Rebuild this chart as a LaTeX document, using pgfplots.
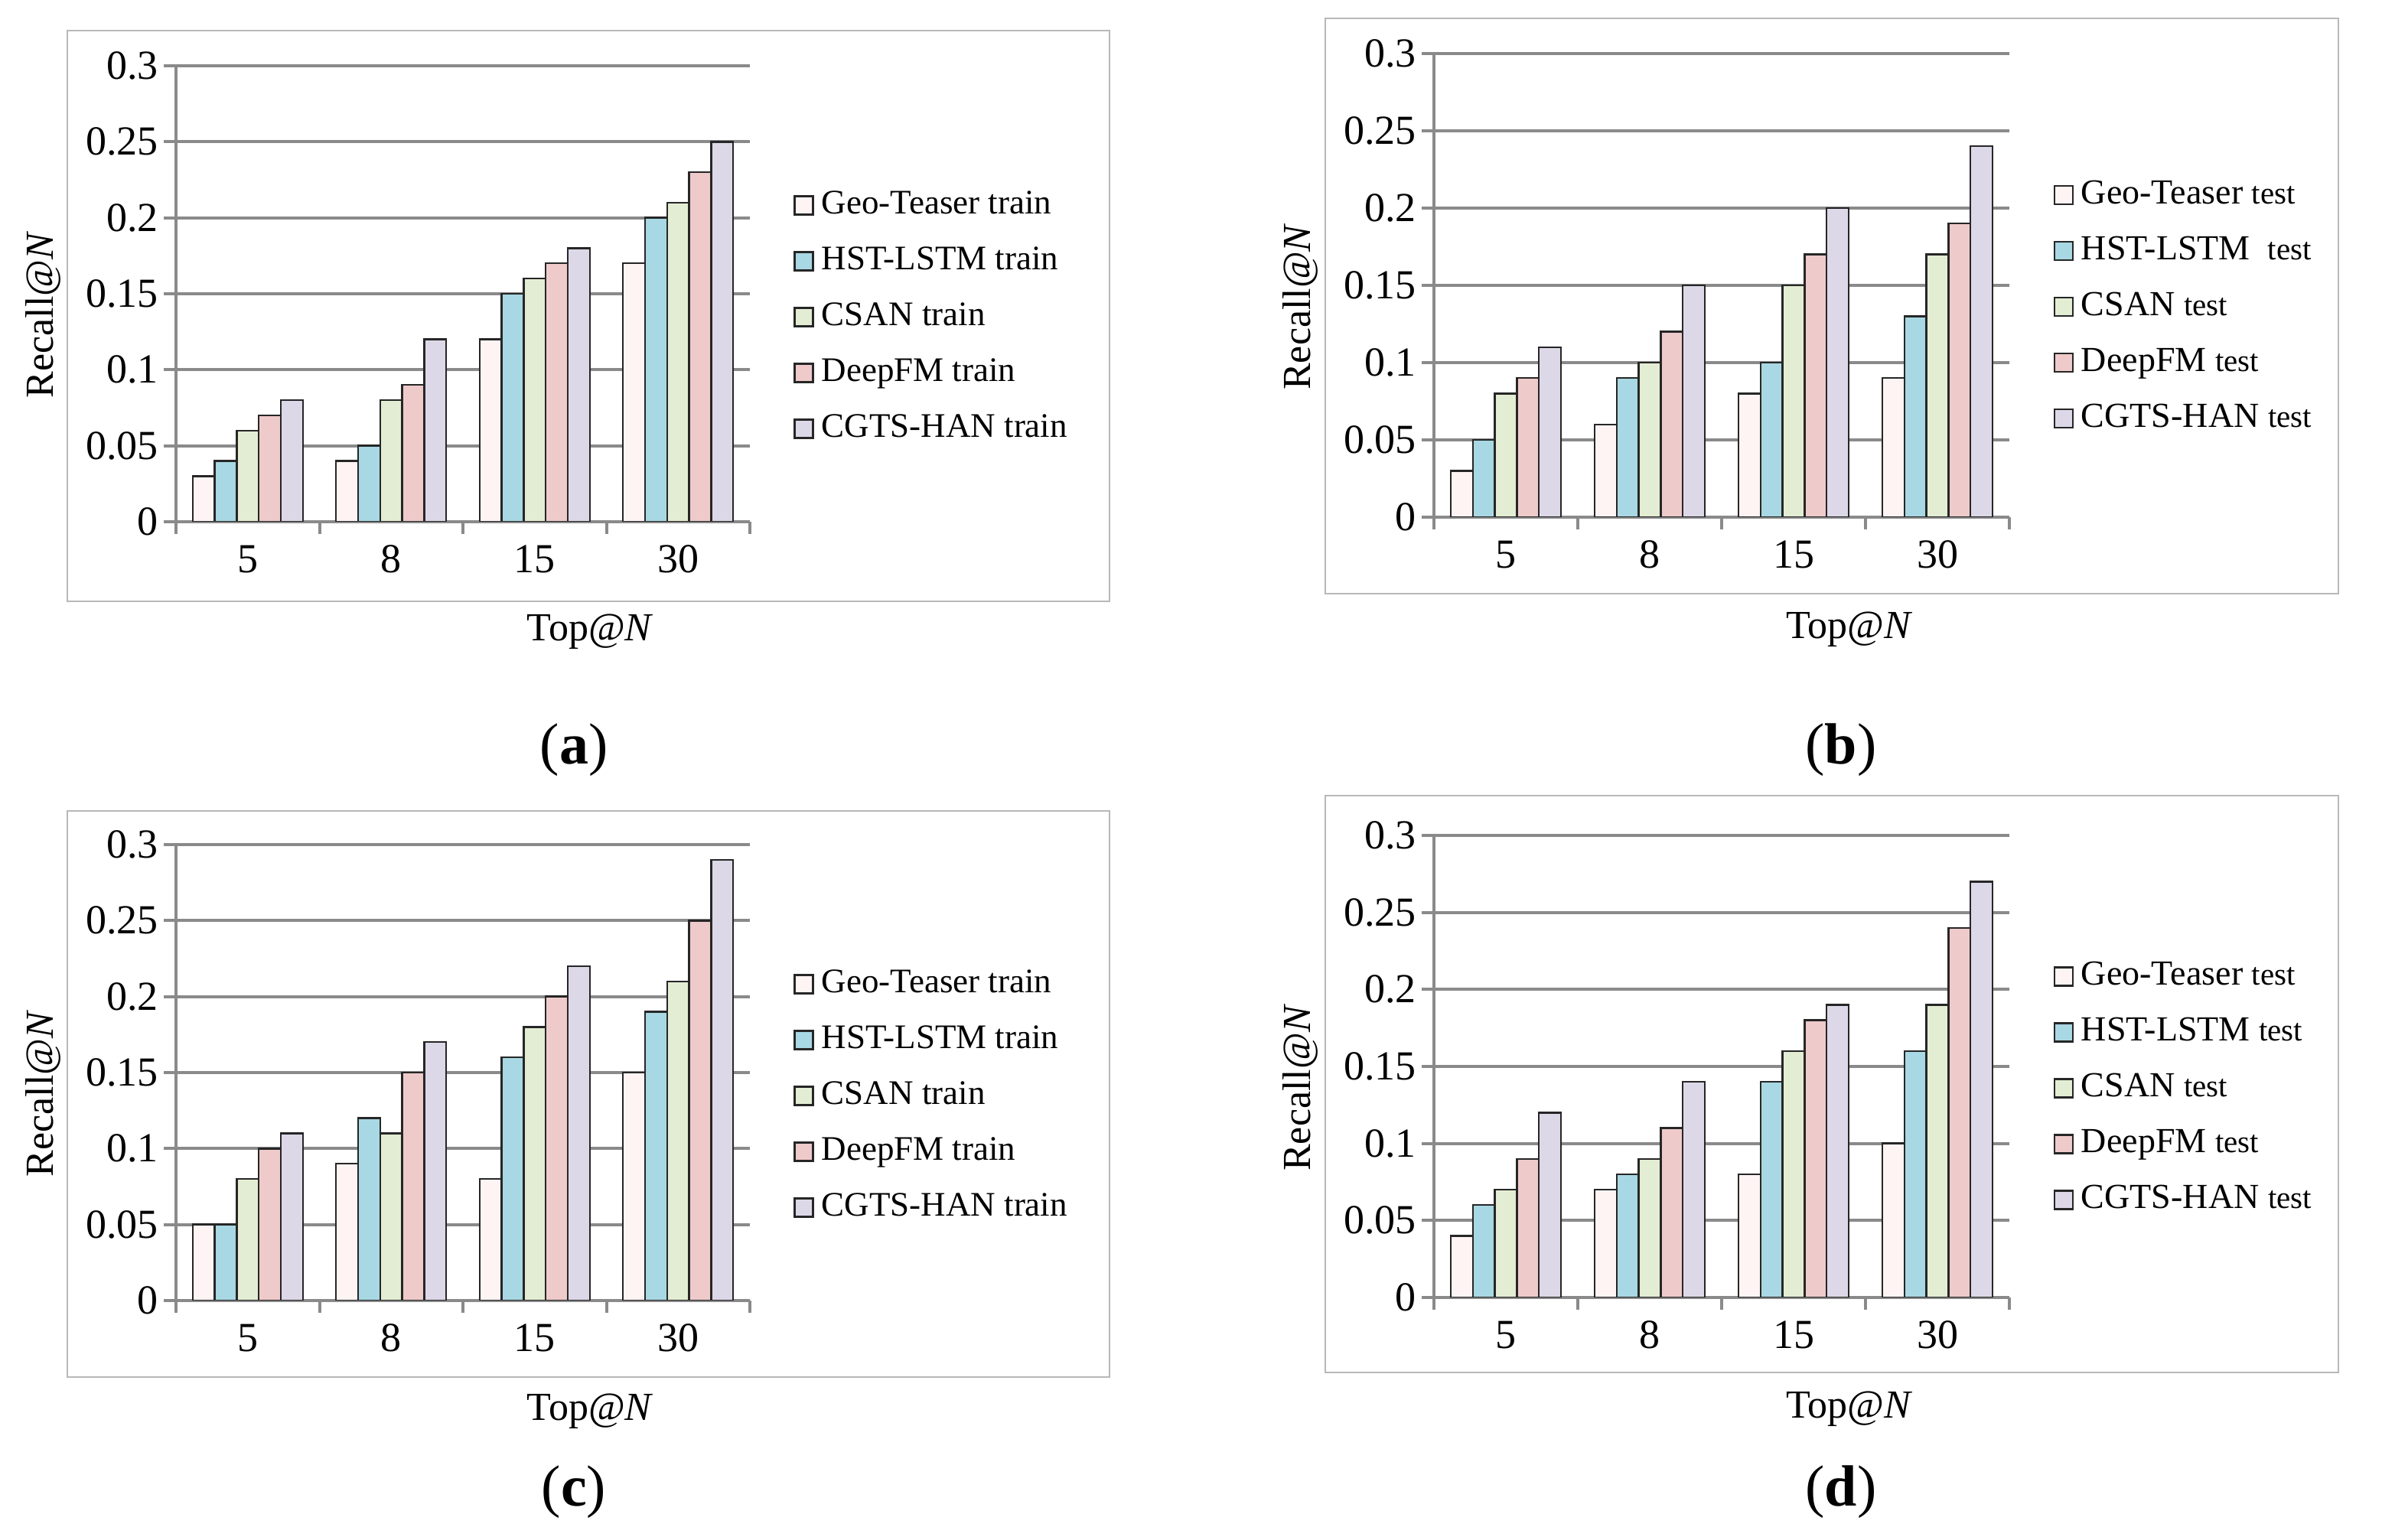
\documentclass[border=0pt]{standalone}
\usepackage{fontspec}
\setmainfont{Liberation Serif}
\usepackage{pgfplots}
\usepackage{pgfplotstable}
\pgfplotsset{compat=1.18}

\definecolor{geo}{HTML}{FFF4F4}
\definecolor{hst}{HTML}{A8D8E3}
\definecolor{csan}{HTML}{E3EDD3}
\definecolor{deep}{HTML}{EFCACA}
\definecolor{cgts}{HTML}{DDD8E8}
\definecolor{axisgray}{HTML}{8A8A8A}
\definecolor{framegray}{HTML}{B8B8B8}
\definecolor{barline}{HTML}{262626}

% recall per top-N (5, 8, 15, 30)
\pgfplotstableread{
x geo  hst  csan deep cgts
1 0.03 0.04 0.06 0.07 0.08
2 0.04 0.05 0.08 0.09 0.12
3 0.12 0.15 0.16 0.17 0.18
4 0.17 0.20 0.21 0.23 0.25
}\dataA
\pgfplotstableread{
x geo  hst  csan deep cgts
1 0.03 0.05 0.08 0.09 0.11
2 0.06 0.09 0.10 0.12 0.15
3 0.08 0.10 0.15 0.17 0.20
4 0.09 0.13 0.17 0.19 0.24
}\dataB
\pgfplotstableread{
x geo  hst  csan deep cgts
1 0.05 0.05 0.08 0.10 0.11
2 0.09 0.12 0.11 0.15 0.17
3 0.08 0.16 0.18 0.20 0.22
4 0.15 0.19 0.21 0.25 0.29
}\dataC
\pgfplotstableread{
x geo  hst  csan deep cgts
1 0.04 0.06 0.07 0.09 0.12
2 0.07 0.08 0.09 0.11 0.14
3 0.08 0.14 0.16 0.18 0.19
4 0.10 0.16 0.19 0.24 0.27
}\dataD

\pgfplotsset{
  recall/.style={
    scale only axis, ybar=0pt, bar width=14.4pt,
    xmin=0.5, xmax=4.5, ymin=0, ymax=0.3,
    axis lines*=left, axis line style={axisgray, line width=2pt},
    tick align=outside, major tick length=8pt, minor tick length=8pt,
    xtick={1,2,3,4}, xticklabels={5,8,15,30},
    minor xtick={0.5,1.5,2.5,3.5,4.5},
    major x tick style={draw=none},
    minor x tick style={draw=axisgray, line width=2pt},
    ytick={0,0.05,0.1,0.15,0.2,0.25,0.3},
    ytick style={draw=axisgray, line width=2pt},
    ymajorgrids, grid style={axisgray, line width=2pt},
    tick label style={font=\fontsize{27}{27}\selectfont},
    xticklabel style={yshift=-4pt},
    yticklabel style={/pgf/number format/fixed, /pgf/number format/precision=2,
      /pgf/number format/assume math mode=true},
    ylabel={Recall@\textit{N}}, xlabel={Top@\textit{N}},
    label style={font=\fontsize{26}{26}\selectfont},
    ylabel style={at={(axis description cs:-0.232,0.454)}, anchor=center},
    xlabel style={at={(axis description cs:0.722,-0.242)}, anchor=center},
    legend style={at={(axis description cs:1.076,0.7265)}, anchor=north west,
      draw=none, fill=none, inner sep=0pt, row sep=17.5pt, column sep=5pt,
      font=\fontsize{22.5}{22.5}\selectfont,
      nodes={inner sep=0pt, text height=15pt, text depth=4pt, anchor=west}},
    legend cell align=left,
    legend image code/.code={\draw[#1] (0pt,-6pt) rectangle (12pt,6pt);},
    cycle list={{fill=geo},{fill=hst},{fill=csan},{fill=deep},{fill=cgts}},
    every axis plot/.append style={draw=barline, line width=1.2pt},
  }
}
\newcommand{\tst}{{\fontsize{20.5}{20.5}\selectfont test}}

\begin{document}
\begin{tikzpicture}
\path[use as bounding box] (0pt,0pt) rectangle (1556.5pt,1006pt);

% panel frames
\draw[framegray, line width=1.2pt] (44pt,613pt) rectangle (725pt,986pt);
\draw[framegray, line width=1.2pt] (866pt,618pt) rectangle (1528pt,994pt);
\draw[framegray, line width=1.2pt] (44pt,106pt) rectangle (725pt,476pt);
\draw[framegray, line width=1.2pt] (866pt,109pt) rectangle (1528pt,486pt);

% (a)
\begin{axis}[recall, at={(115pt,665pt)}, anchor=south west, width=375pt, height=298pt]
  \addplot table[x=x, y=geo]  {\dataA};
  \addplot table[x=x, y=hst]  {\dataA};
  \addplot table[x=x, y=csan] {\dataA};
  \addplot table[x=x, y=deep] {\dataA};
  \addplot table[x=x, y=cgts] {\dataA};
  \legend{Geo-Teaser train, HST-LSTM train, CSAN train, DeepFM train, CGTS-HAN train}
\end{axis}

% (b)
\begin{axis}[recall, at={(937pt,668pt)}, anchor=south west, width=376pt, height=303pt,
  legend style={font=\fontsize{23}{23}\selectfont}]
  \addplot table[x=x, y=geo]  {\dataB};
  \addplot table[x=x, y=hst]  {\dataB};
  \addplot table[x=x, y=csan] {\dataB};
  \addplot table[x=x, y=deep] {\dataB};
  \addplot table[x=x, y=cgts] {\dataB};
  \legend{Geo-Teaser \tst, HST-LSTM\ \ \tst, CSAN \tst, DeepFM \tst, CGTS-HAN \tst}
\end{axis}

% (c)
\begin{axis}[recall, at={(115pt,156pt)}, anchor=south west, width=375pt, height=298pt]
  \addplot table[x=x, y=geo]  {\dataC};
  \addplot table[x=x, y=hst]  {\dataC};
  \addplot table[x=x, y=csan] {\dataC};
  \addplot table[x=x, y=deep] {\dataC};
  \addplot table[x=x, y=cgts] {\dataC};
  \legend{Geo-Teaser train, HST-LSTM train, CSAN train, DeepFM train, CGTS-HAN train}
\end{axis}

% (d)
\begin{axis}[recall, at={(937pt,158pt)}, anchor=south west, width=376pt, height=302pt,
  legend style={font=\fontsize{23}{23}\selectfont}]
  \addplot table[x=x, y=geo]  {\dataD};
  \addplot table[x=x, y=hst]  {\dataD};
  \addplot table[x=x, y=csan] {\dataD};
  \addplot table[x=x, y=deep] {\dataD};
  \addplot table[x=x, y=cgts] {\dataD};
  \legend{Geo-Teaser \tst, HST-LSTM \tst, CSAN \tst, DeepFM \tst, CGTS-HAN \tst}
\end{axis}

% panel captions
\node[font=\fontsize{38}{38}\selectfont] at (375pt,516pt) {(\textbf{a})};
\node[font=\fontsize{38}{38}\selectfont] at (1203pt,516pt) {(\textbf{b})};
\node[font=\fontsize{38}{38}\selectfont] at (375pt,31pt) {(\textbf{c})};
\node[font=\fontsize{38}{38}\selectfont] at (1203pt,31pt) {(\textbf{d})};
\end{tikzpicture}
\end{document}
